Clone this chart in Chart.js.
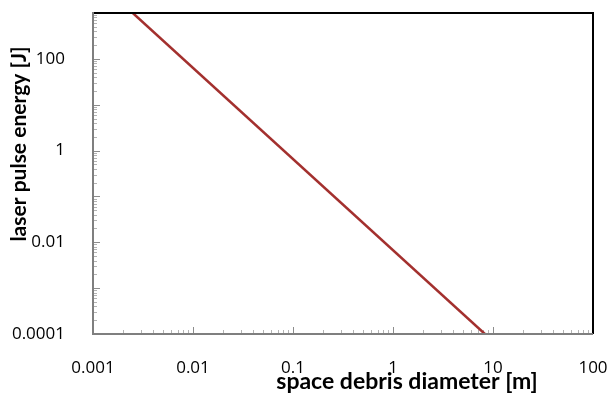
<!DOCTYPE html>
<html>
<head>
<meta charset="utf-8">
<script src="https://cdn.jsdelivr.net/npm/chart.js@4"></script>
<style>
  html, body { margin: 0; padding: 0; background: #fff; }
  #wrap { width: 610px; height: 396px; }
</style>
</head>
<body>
<div id="wrap"><canvas id="chart" width="610" height="396"></canvas></div>
<script>
// data
let diameters = [0.0025, 8.3]
let energies = [1000, 0.0001]

let xTickValues = [0.001, 0.01, 0.1, 1, 10, 100]
let xTickLabels = ["0.001", "0.01", "0.1", "1", "10", "100"]
let yTickValues = [0.0001, 0.01, 1, 100]
let yTickLabels = ["0.0001", "0.01", "1", "100"]

let xTitle = "space debris diameter [m]"
let yTitle = "laser pulse energy [J]"

let fontFam = "'Open Sans', 'Noto Sans', sans-serif"
let titleFam = "Lato, 'Noto Sans', sans-serif"

// minor/major inside ticks, frame and axis titles
let framePlugin = {
  id: "frame",
  beforeDatasetsDraw(chart) {
    let ctx = chart.ctx
    let xs = chart.scales.x, ys = chart.scales.y
    let l = xs.getPixelForValue(xs.min), b = ys.getPixelForValue(ys.min)
    ctx.save()
    ctx.lineWidth = 1
    for (let e = -3; e < 2; e++) {
      for (let m = 1; m < 10; m++) {
        let px = Math.round(xs.getPixelForValue(m * Math.pow(10, e))) + 0.5
        let len = m == 1 ? 7 : 4
        ctx.strokeStyle = m == 1 ? "#8c8c8c" : "#b3b3b3"
        ctx.beginPath(); ctx.moveTo(px, b); ctx.lineTo(px, b - len); ctx.stroke()
      }
    }
    for (let e = -4; e < 3; e++) {
      for (let m = 1; m < 10; m++) {
        let py = Math.round(ys.getPixelForValue(m * Math.pow(10, e))) + 0.5
        let len = m == 1 ? 7 : 4
        ctx.strokeStyle = m == 1 ? "#8c8c8c" : "#b3b3b3"
        ctx.beginPath(); ctx.moveTo(l, py); ctx.lineTo(l + len, py); ctx.stroke()
      }
    }
    ctx.restore()
  },
  afterDraw(chart) {
    let ctx = chart.ctx
    let xs = chart.scales.x, ys = chart.scales.y
    let l = xs.getPixelForValue(xs.min), r = xs.getPixelForValue(xs.max)
    let t = ys.getPixelForValue(ys.max), b = ys.getPixelForValue(ys.min)
    ctx.save()
    // top + right frame, black
    ctx.strokeStyle = "#000"
    ctx.lineWidth = 2
    ctx.beginPath()
    ctx.moveTo(l, t)
    ctx.lineTo(r, t)
    ctx.lineTo(r, b)
    ctx.stroke()
    // left + bottom frame, gray
    ctx.strokeStyle = "#7f7f7f"
    ctx.beginPath()
    ctx.moveTo(l, t - 1)
    ctx.lineTo(l, b)
    ctx.lineTo(r, b)
    ctx.stroke()
    // titles
    ctx.fillStyle = "#000"
    ctx.textAlign = "center"
    ctx.textBaseline = "middle"
    ctx.font = "bold 23px " + titleFam
    ctx.fillText(xTitle, 407, 382)
    ctx.font = "bold 21px " + titleFam
    ctx.translate(19, 144)
    ctx.rotate(-Math.PI / 2)
    ctx.fillText(yTitle, 0, 0)
    ctx.restore()
  }
}

let ctx = document.getElementById("chart").getContext("2d")
new Chart(ctx, {
  type: "line",
  data: {
    datasets: [{
      data: diameters.map((d, i) => ({ x: d, y: energies[i] })),
      borderColor: "#a3302e",
      borderWidth: 2.5,
      pointRadius: 0,
      fill: false,
      tension: 0
    }]
  },
  options: {
    responsive: false,
    animation: false,
    layout: { padding: { top: 13, right: 17, left: 0, bottom: 0 } },
    plugins: { legend: { display: false }, tooltip: { enabled: false } },
    scales: {
      x: {
        type: "logarithmic",
        min: 0.001,
        max: 100,
        afterBuildTicks: s => { s.ticks = xTickValues.map(v => ({ value: v })) },
        afterFit: s => { s.height = 62; s.paddingLeft = 0; s.paddingRight = 0 },
        grid: { display: false },
        border: { display: false },
        ticks: {
          autoSkip: false,
          maxRotation: 0,
          padding: 16,
          color: "#000",
          font: { family: fontFam, size: 17 },
          callback: (v, i) => xTickLabels[i]
        }
      },
      y: {
        type: "logarithmic",
        min: 0.0001,
        max: 1000,
        afterBuildTicks: s => { s.ticks = yTickValues.map(v => ({ value: v })) },
        afterFit: s => { s.width = 93; s.paddingTop = 0; s.paddingBottom = 0 },
        grid: { display: false },
        border: { display: false },
        ticks: {
          autoSkip: false,
          padding: 20,
          color: "#000",
          font: { family: fontFam, size: 17 },
          callback: (v, i) => yTickLabels[i]
        }
      }
    }
  },
  plugins: [framePlugin]
})
</script>
</body>
</html>
